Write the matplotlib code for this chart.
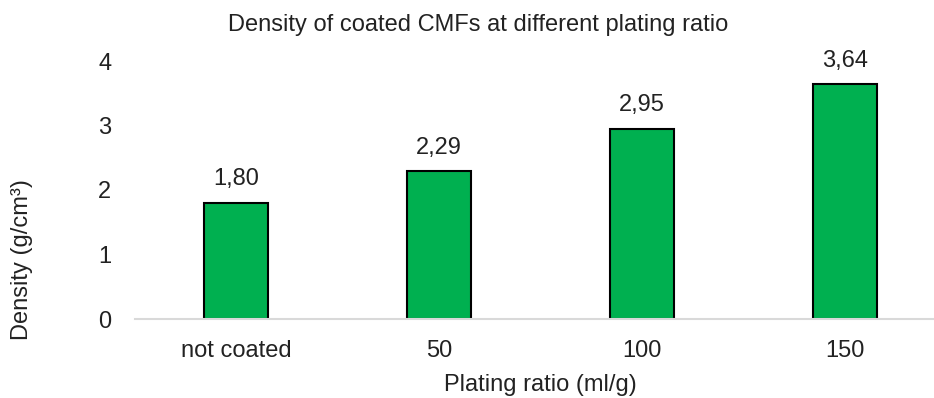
import matplotlib.pyplot as plt
import numpy as np

plt.rcParams['font.family'] = ['Liberation Sans', 'DejaVu Sans']

categories = ["not coated", "50", "100", "150"]
density = [1.80, 2.29, 2.95, 3.64]
value_labels = ["1,80", "2,29", "2,95", "3,64"]

fig = plt.figure(figsize=(9.34, 3.98), dpi=100)
# axes extends a bit past the right edge, like the cropped original
ax = fig.add_axes([135 / 934, 79 / 398, 811 / 934, 258 / 398])

x = np.arange(len(categories))
bars = ax.bar(x, density, width=0.315, color='#00B050', edgecolor='black', linewidth=1.5)

for bar, lab in zip(bars, value_labels):
    ax.annotate(lab,
                xy=(bar.get_x() + bar.get_width() / 2, bar.get_height()),
                xytext=(0, 9), textcoords='offset points',
                ha='center', va='bottom', fontsize=17, color='#222222',
                annotation_clip=False)

ax.set_xlim(-0.5, 3.5)
ax.set_ylim(0, 4)
ax.set_yticks([0, 1, 2, 3, 4])
ax.set_xticks(x)
ax.set_xticklabels(categories)
ax.tick_params(axis='both', length=0, labelsize=17, colors='#222222')
ax.tick_params(axis='y', pad=17)
ax.tick_params(axis='x', pad=15)

for side in ['top', 'right', 'left']:
    ax.spines[side].set_visible(False)
ax.spines['bottom'].set_color('#D9D9D9')
ax.spines['bottom'].set_linewidth(1.5)

fig.text(478 / 934, 1 - 25 / 398, 'Density of coated CMFs at different plating ratio',
         ha='center', va='center', fontsize=17, color='#222222')
fig.text(540 / 934, 1 - 385 / 398, 'Plating ratio (ml/g)',
         ha='center', va='center', fontsize=17, color='#222222')
fig.text(22 / 934, 1 - 260 / 398, 'Density (g/cm³)', rotation=90,
         ha='center', va='center', fontsize=17, color='#222222')

fig.savefig('out.png', dpi=100)
